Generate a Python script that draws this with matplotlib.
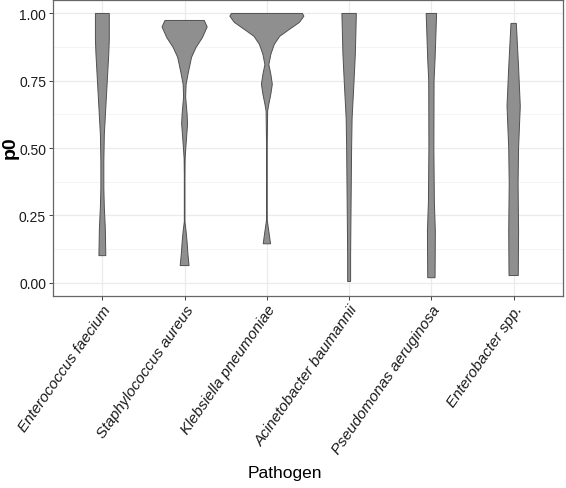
import numpy as np
import matplotlib.pyplot as plt

plt.rcParams['font.family'] = ['Liberation Sans', 'DejaVu Sans']

pathogens = ["Enterococcus faecium", "Staphylococcus aureus", "Klebsiella pneumoniae",
             "Acinetobacter baumannii", "Pseudomonas aeruginosa", "Enterobacter spp."]

# violin outlines: p0 levels and relative density (1 = widest)
ef_y = [1.00, 0.90, 0.85, 0.75, 0.65, 0.55, 0.45, 0.35, 0.28, 0.20, 0.10]
ef_d = [0.187, 0.187, 0.173, 0.133, 0.093, 0.053, 0.04, 0.04, 0.053, 0.08, 0.093]

sa_y = [0.974, 0.95, 0.91, 0.874, 0.837, 0.785, 0.737, 0.69, 0.626, 0.59, 0.54, 0.50,
        0.46, 0.40, 0.30, 0.226, 0.19, 0.15, 0.10, 0.063]
sa_d = [0.53, 0.61, 0.48, 0.31, 0.187, 0.107, 0.04, 0.027, 0.067, 0.08, 0.053, 0.032,
        0.013, 0.008, 0.008, 0.008, 0.04, 0.067, 0.093, 0.12]

kp_y = [1.00, 0.99, 0.967, 0.94, 0.915, 0.885, 0.848, 0.81, 0.774, 0.737, 0.70, 0.663,
        0.637, 0.50, 0.30, 0.23, 0.19, 0.144]
kp_d = [0.96, 1.0, 0.88, 0.60, 0.347, 0.20, 0.107, 0.053, 0.107, 0.147, 0.107, 0.053,
        0.021, 0.008, 0.008, 0.011, 0.053, 0.099]

ab_y = [1.00, 0.85, 0.75, 0.61, 0.50, 0.30, 0.10, 0.004]
ab_d = [0.195, 0.168, 0.133, 0.08, 0.067, 0.053, 0.04, 0.04]

pa_y = [1.00, 0.83, 0.75, 0.50, 0.30, 0.19, 0.018]
pa_d = [0.141, 0.099, 0.072, 0.067, 0.08, 0.107, 0.099]

es_y = [0.963, 0.80, 0.656, 0.50, 0.37, 0.19, 0.026]
es_d = [0.072, 0.133, 0.179, 0.133, 0.12, 0.133, 0.125]

profiles = [(ef_y, ef_d), (sa_y, sa_d), (kp_y, kp_d), (ab_y, ab_d), (pa_y, pa_d), (es_y, es_d)]

fig = plt.figure(figsize=(5.66, 4.89), dpi=100)
ax = fig.add_axes([53 / 566, 1 - 297 / 489, 510 / 566, 296 / 489])

for i, (yy, dd) in enumerate(profiles):
    yy = np.array(yy)
    hw = np.array(dd) * 0.45
    xs = np.concatenate([i - hw, (i + hw)[::-1]])
    ys = np.concatenate([yy, yy[::-1]])
    ax.fill(xs, ys, facecolor='#8f8f8f', edgecolor='#505050', linewidth=0.7, zorder=3)

ax.set_xlim(-0.6, 5.6)
ax.set_ylim(-0.05, 1.05)
ax.set_yticks([0, 0.25, 0.5, 0.75, 1.0])
ax.set_yticks([0.125, 0.375, 0.625, 0.875], minor=True)
ax.set_yticklabels(["0.00", "0.25", "0.50", "0.75", "1.00"], fontsize=10, color='#1a1a1a')
ax.set_xticks(range(len(pathogens)))
ax.set_xticklabels(pathogens, rotation=55, ha='right', rotation_mode='anchor',
                   fontsize=11, style='italic', color='#1a1a1a')
ax.grid(which='major', color='#ebebeb', linewidth=0.9, zorder=0)
ax.grid(which='minor', axis='y', color='#f2f2f2', linewidth=0.6, zorder=0)
ax.set_axisbelow(True)
ax.tick_params(which='major', length=3, color='#444444', width=0.7)
ax.tick_params(axis='x', which='major', pad=1.5)
ax.tick_params(axis='y', which='major', pad=2)
ax.tick_params(which='minor', length=0)
for s in ax.spines.values():
    s.set_color('#666666')
    s.set_linewidth(0.9)

ax.set_xlabel("Pathogen", fontsize=12.5, va='center')
ax.xaxis.set_label_coords(0.455, -0.595)
ax.set_ylabel("p0", fontsize=14, fontweight='bold', va='center')
ax.yaxis.set_label_coords(-0.084, 0.503)

plt.savefig('out.png', dpi=100)
